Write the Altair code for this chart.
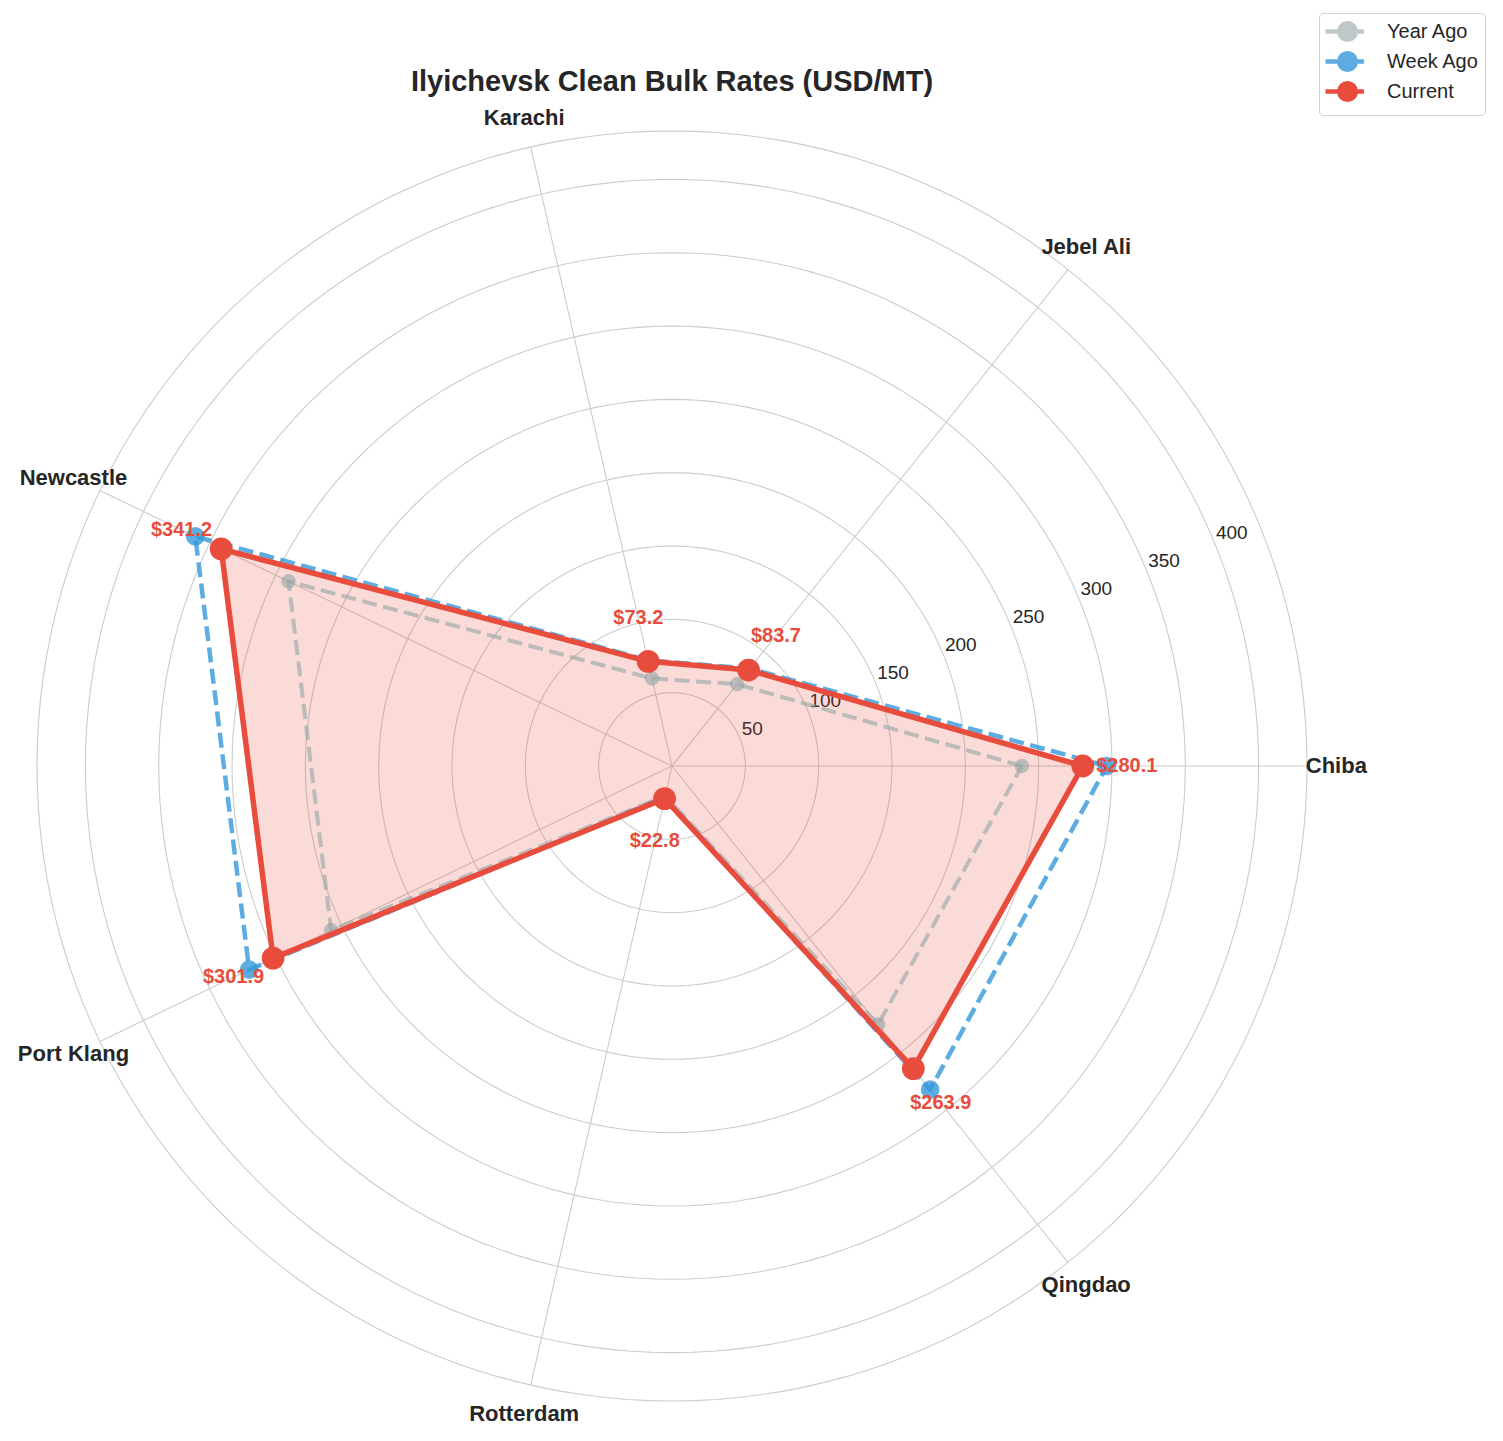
import math
import altair as alt
import pandas as pd

# ---------------- data ----------------
categories = ["Chiba", "Jebel Ali", "Karachi", "Newcastle", "Port Klang", "Rotterdam", "Qingdao"]
year_ago = [238.6, 71.4, 61.2, 290.2, 258.0, 21.0, 225.4]
week_ago = [296.5, 85.0, 74.0, 360.8, 320.0, 22.0, 282.3]
current = [280.1, 83.7, 73.2, 341.2, 301.9, 22.8, 263.9]
series_names = ["Year Ago", "Week Ago", "Current"]
series_colors = ["#95a5a6", "#3498db", "#e74c3c"]
ring_ticks = [50, 100, 150, 200, 250, 300, 350, 400]

# ---------------- layout constants ----------------
FONT = "Liberation Sans"
N = len(categories)
R_MAX = 433.0
LABEL_R = 453.0
TICK_ANGLE = 22.5
VALUE_OFFSET = 30.0
TEXT = "#262626"
GRID = "#cccccc"

series_values = {"Year Ago": year_ago, "Week Ago": week_ago, "Current": current}
rows = []
for name in series_names:
    vals = series_values[name]
    for i in range(N + 1):
        rows.append({"series": name, "category": categories[i % N], "idx": i, "value": vals[i % N]})
series_df = pd.DataFrame(rows)

cat_df = pd.DataFrame({"category": categories, "idx": list(range(N)), "current": current})

ring_rows = []
for r in ring_ticks + [R_MAX]:
    for d in range(0, 361, 2):
        ring_rows.append({"ring": r, "deg": d})
ring_df = pd.DataFrame(ring_rows)
tick_df = pd.DataFrame({"tick": ring_ticks})

xs = alt.Scale(domain=[-R_MAX, R_MAX], nice=False, zero=False)
ys = alt.Scale(domain=[-R_MAX, R_MAX], nice=False, zero=False)


def X(f):
    return alt.X(f"{f}:Q", scale=xs, axis=None)


def Y(f):
    return alt.Y(f"{f}:Q", scale=ys, axis=None)


ANG = f"datum.idx*2*PI/{N}"

# ---------------- grid ----------------
rings = alt.Chart(ring_df).transform_calculate(
    x="datum.ring*cos(datum.deg*PI/180)",
    y="datum.ring*sin(datum.deg*PI/180)",
).mark_line(stroke=GRID, strokeWidth=1.1).encode(
    x=X("x"), y=Y("y"), detail="ring:N", order="deg:Q"
)

spokes = alt.Chart(cat_df).transform_calculate(
    a=ANG,
    x0="0",
    y0="0",
    x1=f"{R_MAX}*cos(datum.a)",
    y1=f"{R_MAX}*sin(datum.a)",
).mark_rule(stroke=GRID, strokeWidth=1.1).encode(
    x=X("x0"), y=Y("y0"), x2="x1:Q", y2="y1:Q"
)

tick_labels = alt.Chart(tick_df).transform_calculate(
    x=f"datum.tick*cos({TICK_ANGLE}*PI/180)",
    y=f"datum.tick*sin({TICK_ANGLE}*PI/180)",
).mark_text(
    align="left", baseline="middle", dx=2, dy=-9, fontSize=19, color=TEXT, font=FONT
).encode(x=X("x"), y=Y("y"), text="tick:Q")

cat_labels = alt.Chart(cat_df).transform_calculate(
    a=ANG,
    x=f"{LABEL_R}*cos(datum.a)",
    y=f"{LABEL_R}*sin(datum.a)",
).mark_text(
    align="center", baseline="middle", fontSize=22, fontWeight="bold", color=TEXT, font=FONT
).encode(x=X("x"), y=Y("y"), text="category:N")

# ---------------- series ----------------
base = alt.Chart(series_df).transform_calculate(
    a=ANG,
    x="datum.value*cos(datum.a)",
    y="datum.value*sin(datum.a)",
)

SYM_UNIT = 10.0  # half of sqrt(symbolSize)


def sym(r_px, c_px=10.0, x0_px=-12.0, x1_px=26.4):
    u = SYM_UNIT
    r, c, k = r_px / u, c_px / u, 0.5523 * r_px / u
    f = lambda v: f"{v:.3f}"
    return (
        f"M{f(x0_px / u)},0H{f(x1_px / u)}"
        f"M{f(c - r)},0"
        f"C{f(c - r)},{f(-k)} {f(c - k)},{f(-r)} {f(c)},{f(-r)}"
        f"C{f(c + k)},{f(-r)} {f(c + r)},{f(-k)} {f(c + r)},0"
        f"C{f(c + r)},{f(k)} {f(c + k)},{f(r)} {f(c)},{f(r)}"
        f"C{f(c - k)},{f(r)} {f(c - r)},{f(k)} {f(c - r)},0Z"
    )


def js(v):
    return f"'{v}'" if isinstance(v, str) else str(v)


def cond_expr(vals):
    return alt.ExprRef(
        expr=(f"datum.value === 'Current' ? {js(vals[2])} : "
              f"(datum.value === 'Week Ago' ? {js(vals[1])} : {js(vals[0])})")
    )


legend = alt.Legend(
    title=None,
    orient="none",
    legendX=1282,
    legendY=-118,
    padding=6,
    rowPadding=-7,
    strokeColor="#d0d0d0",
    fillColor="white",
    cornerRadius=4,
    labelFont=FONT,
    labelFontSize=20,
    labelColor=TEXT,
    labelOffset=37,
    symbolSize=(2 * SYM_UNIT) ** 2,
    symbolType=sym(8.3),
    symbolStrokeWidth=4.5,
    symbolOpacity=cond_expr([0.6, 0.8, 1.0]),
    symbolFillColor=cond_expr(series_colors),
    symbolStrokeColor=cond_expr(series_colors),
)

color = alt.Color(
    "series:N",
    scale=alt.Scale(domain=series_names, range=series_colors),
    legend=legend,
)

fill = base.transform_filter(alt.datum.series == "Current").mark_line(
    fill=series_colors[2], fillOpacity=0.2, strokeOpacity=0
).encode(x=X("x"), y=Y("y"), order="idx:Q")

styles = {
    "Year Ago": dict(width=4, dash=[15, 6.5], opacity=0.6, size=210),
    "Week Ago": dict(width=4.5, dash=[15, 6.5], opacity=0.8, size=346),
    "Current": dict(width=5.5, dash=None, opacity=1.0, size=520),
}

series_layers = []
for name in series_names:
    st = styles[name]
    line_kw = dict(strokeWidth=st["width"], opacity=st["opacity"], strokeJoin="round")
    if st["dash"]:
        line_kw["strokeDash"] = st["dash"]
    line = base.transform_filter(alt.datum.series == name).mark_line(**line_kw).encode(
        x=X("x"), y=Y("y"), order="idx:Q", color=color
    )
    pts = base.transform_filter(
        (alt.datum.series == name) & (alt.datum.idx < N)
    ).mark_circle(size=st["size"], opacity=st["opacity"]).encode(
        x=X("x"), y=Y("y"), color=color
    )
    series_layers += [line, pts]

value_labels = alt.Chart(cat_df).transform_calculate(
    a=ANG,
    r=f"datum.current+{VALUE_OFFSET}",
    x="datum.r*cos(datum.a)",
    y="datum.r*sin(datum.a)",
    label="'$' + format(datum.current, '.1f')",
).mark_text(
    align="center", baseline="middle", fontSize=20, fontWeight="bold",
    color=series_colors[2], font=FONT
).encode(x=X("x"), y=Y("y"), text="label:N")

chart = alt.layer(
    rings, spokes, tick_labels, cat_labels, fill, *series_layers, value_labels
).properties(
    width=1270,
    height=1270,
    title=alt.Title(
        "Ilyichevsk Clean Bulk Rates (USD/MT)",
        font=FONT, fontSize=29, fontWeight="bold", color=TEXT, anchor="middle",
        offset=0, dy=84,
    ),
    padding={"left": 29, "top": 123, "right": 186, "bottom": 32},
    autosize=alt.AutoSizeParams(type="none"),
).configure_view(stroke=None)

chart.save("out.html", embed_options={"renderer": "svg", "actions": False})
